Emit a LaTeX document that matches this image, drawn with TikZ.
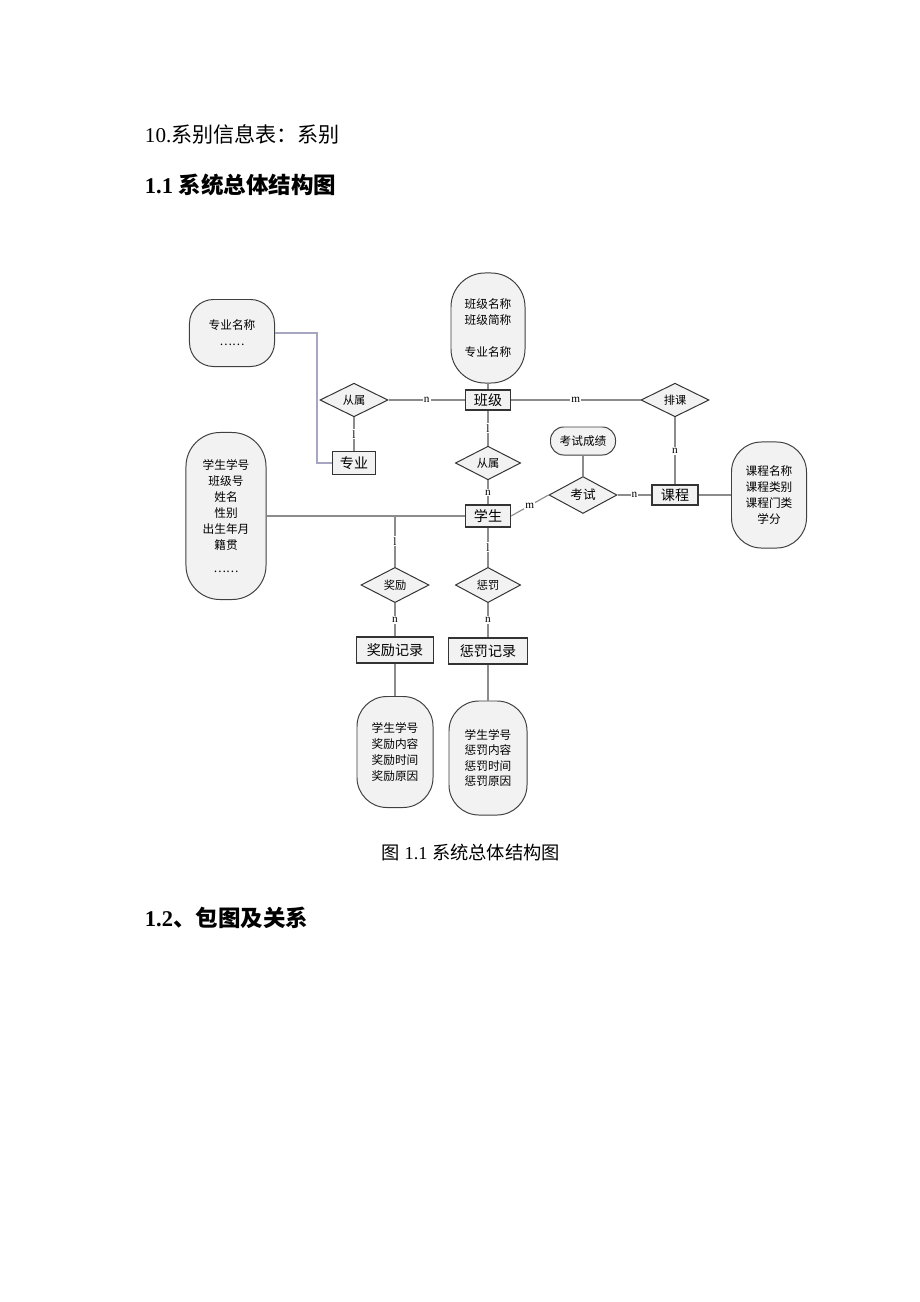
\documentclass[tikz,border=0pt]{standalone}
\usepackage{fontspec}
\setmainfont{Liberation Serif}
\newfontfamily\cjk{Noto Sans CJK SC}
\usetikzlibrary{shapes.geometric}

\begin{document}
\begin{tikzpicture}[x=0.025cm,y=-0.025cm,
	ent/.style={draw=black!80,fill=black!5,line width=0.8pt,inner sep=0pt,font=\cjk\fontsize{10}{12}\selectfont},
	rel/.style={diamond,draw=black!80,fill=black!5,line width=0.7pt,inner sep=0pt,minimum width=1.7cm,minimum height=0.84cm,font=\cjk\fontsize{8}{10}\selectfont},
	attr/.style={draw=black!75,fill=black!5,line width=0.7pt,rounded corners=0.75cm,inner sep=0pt,align=center,font=\cjk\fontsize{8.3}{11.4}\selectfont},
	link/.style={draw=black!45,line width=0.8pt},
	blink/.style={draw=blue!30!black!35,line width=0.9pt},
	card/.style={fill=white,inner sep=0.8pt,font=\fontsize{8}{9}\selectfont}]
      \fill[white] (0,0) rectangle (920,1302);
      \useasboundingbox (0,0) rectangle (920,1302);
      \node[anchor=west,font=\fontsize{15}{18}\selectfont] (t10) at (140,134) {10.{\cjk 系别信息表：系别}};
      \node[anchor=west,font=\bfseries\fontsize{16}{19}\selectfont] (t11) at (140,185) {1.1 {\cjk\bfseries 系统总体结构图}};

      \node[attr,rounded corners=0.6cm,minimum width=2.125cm,minimum height=1.675cm] (zyattr) at (232,333) {专业名称\\……};
      \node[attr,rounded corners=0.85cm,minimum width=1.85cm,minimum height=2.75cm] (bjattr) at (488,328) {班级名称\\班级简称\\[11pt]专业名称};
      \node[attr,rounded corners=0.33cm,minimum width=1.625cm,minimum height=0.7cm] (kscj) at (583,441) {考试成绩};
      \node[attr,minimum width=1.875cm,minimum height=2.65cm] (kcattr) at (769,495) {课程名称\\课程类别\\课程门类\\学分};
      \node[attr,rounded corners=0.85cm,minimum width=2cm,minimum height=4.175cm] (xsattr) at (226,516) {学生学号\\班级号\\姓名\\性别\\出生年月\\籍贯\\[5pt]……};
      \node[attr,minimum width=1.9cm,minimum height=2.775cm] (jlattr) at (395,752) {学生学号\\奖励内容\\奖励时间\\奖励原因};
      \node[attr,minimum width=1.95cm,minimum height=2.85cm,font=\cjk\fontsize{8.3}{10.8}\selectfont] (cfattr) at (488,758) {学生学号\\惩罚内容\\惩罚时间\\惩罚原因};

      \node[ent,minimum width=1.125cm,minimum height=0.5cm] (bj) at (488,400) {班级};
      \node[ent,minimum width=1.075cm,minimum height=0.575cm] (zy) at (354,463) {专业};
      \node[ent,minimum width=1.125cm,minimum height=0.55cm] (xs) at (488,516) {学生};
      \node[ent,minimum width=1.15cm,minimum height=0.5cm] (kc) at (675,495) {课程};
      \node[ent,minimum width=1.925cm,minimum height=0.65cm] (jljl) at (395,650) {奖励记录};
      \node[ent,minimum width=1.975cm,minimum height=0.65cm] (cfjl) at (488,651) {惩罚记录};

      \node[rel] (cs1) at (354,400) {从属};
      \node[rel,minimum width=1.63cm] (cs2) at (488,463) {从属};
      \node[rel] (pk) at (675,400) {排课};
      \node[rel,font=\cjk\fontsize{9}{10}\selectfont] (ks) at (583,495) {考试};
      \node[rel,minimum height=0.88cm] (jl) at (395,585) {奖励};
      \node[rel,minimum width=1.63cm,minimum height=0.88cm] (cf) at (488,585) {惩罚};

      \draw[blink] (zyattr.east) -- ++(42,0) |- (zy.west);
      \draw[link] (cs1.south) -- node[card]{l} (zy.north);
      \draw[link] (cs1.east) -- node[card]{n} (bj.west);
      \draw[link] (bjattr.south) -- (bj.north);
      \draw[link] (bj.east) -- node[card]{m} (pk.west);
      \draw[link] (pk.south) -- node[card]{n} (kc.north);
      \draw[link] (kscj.south) -- (ks.north);
      \draw[link] (ks.east) -- node[card]{n} (kc.west);
      \draw[link] (xs.east) -- node[card]{m} (ks.west);
      \draw[link] (kc.east) -- (kcattr.west);
      \draw[link] (bj.south) -- node[card]{l} (cs2.north);
      \draw[link] (cs2.south) -- node[card]{n} (xs.north);
      \draw[link] (xsattr.east) -- (xs.west);
      \coordinate (jlbr) at (395,516);
      \draw[link] (jlbr) -- node[card]{l} (jl.north);
      \draw[link] (xs.south) -- node[card]{l} (cf.north);
      \draw[link] (jl.south) -- node[card]{n} (jljl.north);
      \draw[link] (cf.south) -- node[card]{n} (cfjl.north);
      \draw[link] (jljl.south) -- (jlattr.north);
      \draw[link] (cfjl.south) -- (cfattr.north);

      \node[font=\fontsize{13}{15}\selectfont] (cap) at (471,853) {{\cjk 图} 1.1 {\cjk 系统总体结构图}};
      \node[anchor=west,font=\bfseries\fontsize{16}{19}\selectfont] (t12) at (140,918) {1.2{\cjk\bfseries 、包图及关系}};
    \end{tikzpicture}
\end{document}
